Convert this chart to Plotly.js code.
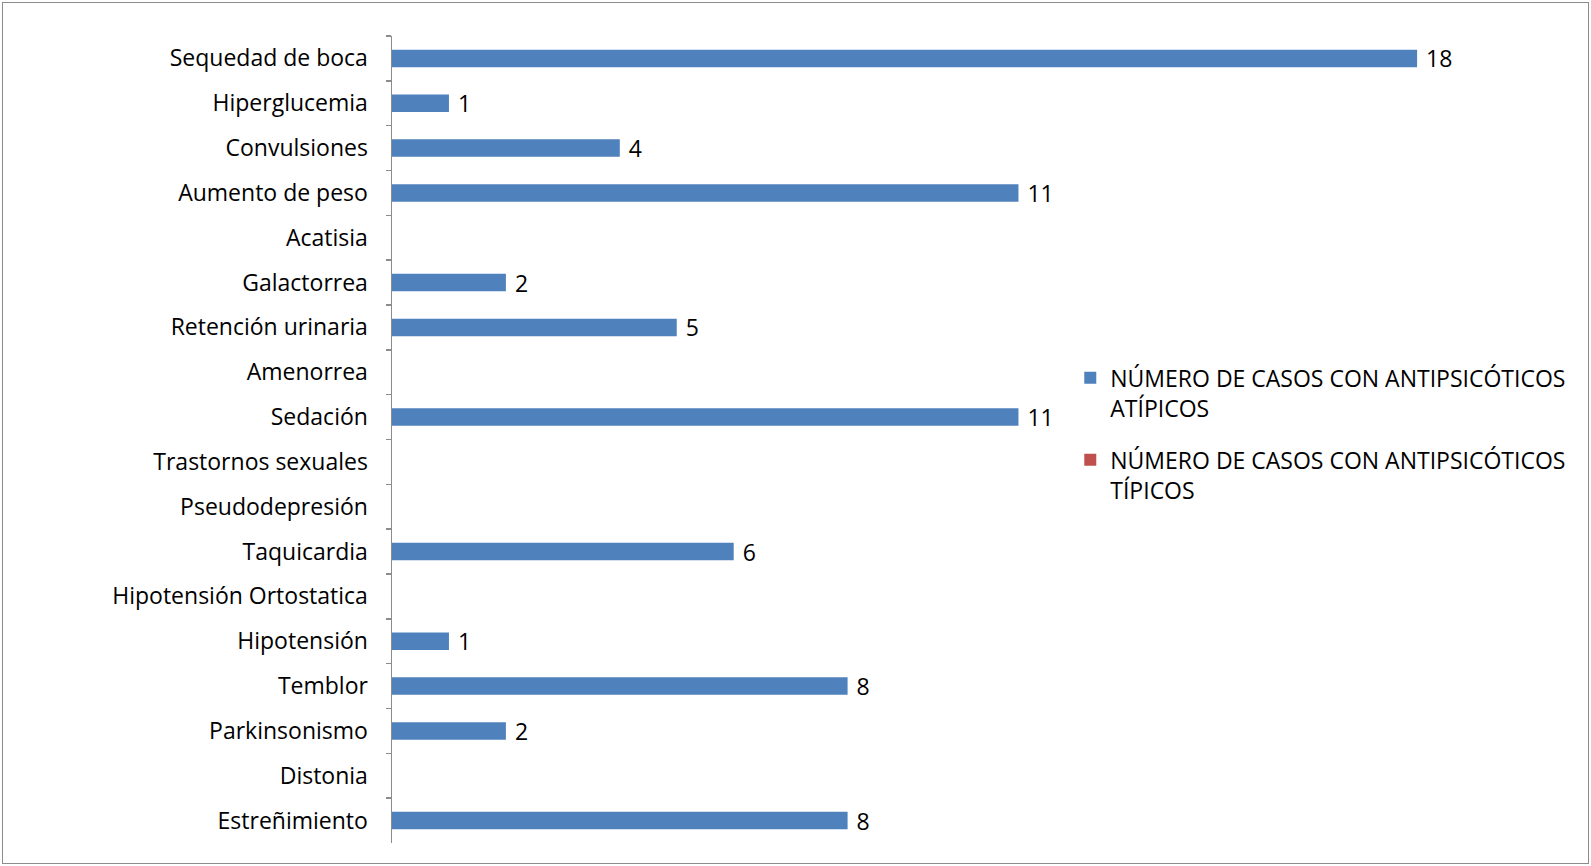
<!DOCTYPE html>
<html>
<head>
<meta charset="utf-8">
<script src="https://cdn.plot.ly/plotly-3.0.1.min.js"></script>
<style>
  html, body { margin: 0; padding: 0; background: #fff; }
  #wrap { position: relative; width: 1591px; height: 866px; }
  #chart { width: 1591px; height: 866px; }
  #frame { position: absolute; left: 2px; top: 2px; width: 1585px; height: 860px;
           border: 1px solid #8c8c8c; pointer-events: none; }
</style>
</head>
<body>
<div id="wrap">
  <div id="chart"></div>
  <div id="frame"></div>
</div>
<script>
// Adverse effects, listed top to bottom
const categories = [
  "Sequedad de boca", "Hiperglucemia", "Convulsiones", "Aumento de peso",
  "Acatisia", "Galactorrea", "Retención urinaria", "Amenorrea", "Sedación",
  "Trastornos sexuales", "Pseudodepresión", "Taquicardia",
  "Hipotensión Ortostatica", "Hipotensión", "Temblor", "Parkinsonismo",
  "Distonia", "Estreñimiento"
];

// Number of cases with atypical antipsychotics (null = no cases reported)
const atipicos = [18, 1, 4, 11, null, 2, 5, null, 11, null, null, 6, null, 1, 8, 2, null, 8];

// Number of cases with typical antipsychotics (no values recorded)
const tipicos = [null, null, null, null, null, null, null, null, null,
                 null, null, null, null, null, null, null, null, null];

const seriesNames = [
  "NÚMERO DE CASOS CON ANTIPSICÓTICOS<br>ATÍPICOS",
  "NÚMERO DE CASOS CON ANTIPSICÓTICOS<br>TÍPICOS"
];

const FONT = "'Open Sans', 'Noto Sans', sans-serif";
const SIZE = 23;
// value labels sit a little away from the bar ends
const labelOf = v => (v === null ? "" : " " + String(v));

const traces = [
  {
    type: "bar", orientation: "h",
    name: seriesNames[0], legendgroup: "atipicos",
    y: categories, x: atipicos,
    width: 0.39,
    marker: { color: "#4F81BD" },
    text: atipicos.map(labelOf),
    textposition: "outside",
    constraintext: "none",
    cliponaxis: false,
    textfont: { family: FONT, size: SIZE, color: "#000" },
    hoverinfo: "skip"
  },
  {
    type: "bar", orientation: "h",
    name: seriesNames[1], legendgroup: "tipicos",
    y: categories, x: tipicos,
    width: 0.39,
    marker: { color: "#C0504D" },
    hoverinfo: "skip"
  }
];

const layout = {
  width: 1591, height: 866,
  margin: { l: 392, r: 60, t: 36, b: 23 },
  paper_bgcolor: "#fff", plot_bgcolor: "#fff",
  barmode: "overlay",
  showlegend: true,
  legend: {
    x: 0.5955, y: 0.603, xanchor: "left", yanchor: "top",
    valign: "top",
    font: { family: FONT, size: SIZE, color: "#000" },
    tracegroupgap: 19,
    itemwidth: 30
  },
  xaxis: {
    range: [0, 20], visible: false, fixedrange: true
  },
  yaxis: {
    autorange: "reversed",
    showline: true, linecolor: "#8c8c8c", linewidth: 1.5,
    ticks: "outside", tickson: "boundaries", ticklen: 5, tickcolor: "#8c8c8c",
    tickwidth: 1.5,
    ticklabelstandoff: 18,
    showgrid: false, zeroline: false,
    tickfont: { family: FONT, size: SIZE, color: "#000" },
    fixedrange: true
  }
};

Plotly.newPlot("chart", traces, layout, { displayModeBar: false, staticPlot: true });
</script>
</body>
</html>
